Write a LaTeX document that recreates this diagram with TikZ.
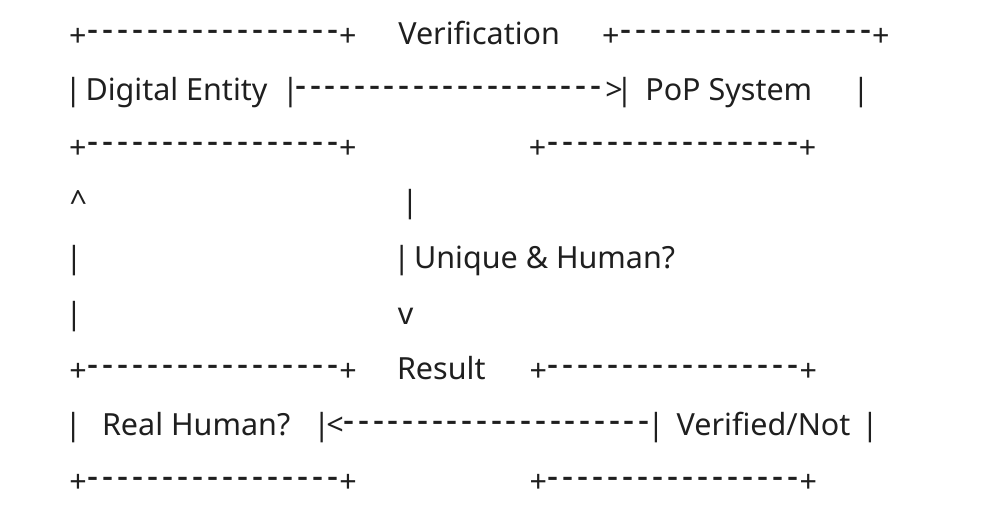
\documentclass[tikz,border=0pt]{standalone}
\usepackage{fontspec}
\setmainfont{Noto Sans}
\definecolor{ink}{HTML}{1F1F1F}
\newcommand\dcell[1]{\makebox[#1pt]{\raisebox{2.0pt}{\scalebox{1.12}[1.3]{-}}}}
\newcommand\pcell{\makebox[15pt]{\raisebox{-1.5pt}{+}}}
\newcommand\bordr{\pcell\foreach\i in{1,...,17}{\dcell{15}}\pcell}
\newcommand\drun[1]{\foreach\i in{1,...,21}{\dcell{#1}}}
\begin{document}
\begin{tikzpicture}[x=1pt,y=-1pt,
  txt/.style={inner sep=0pt,outer sep=0pt,text=ink,font=\fontsize{30.5}{36}\selectfont},
  gl/.style={txt,anchor=base},
  tx/.style={txt,anchor=base west}]
\useasboundingbox[fill=white] (0,0) rectangle (1003,511);
% line 1
\node[tx] (b1l) at (70.3,45) {\bordr};
\node[tx] (ver) at (398.3,45) {Verification};
\node[tx] (b1r) at (603.3,45) {\bordr};
% line 2
\node[gl] (l2a) at (73.3,100.8) {|};
\node[tx] (de) at (85.5,100.8) {Digital Entity};
\node[gl] (l2b) at (290.5,100.8) {|};
\node[tx] (r2) at (293.4,100.8) {\drun{14.76}};
\node[gl] (gt) at (614,100.8) {>};
\node[gl] (l2c) at (624.5,100.8) {|};
\node[tx] (pop) at (645.3,100.8) {PoP System};
\node[gl] (l2d) at (861,100.8) {|};
% line 3
\node[tx] (b3l) at (70.3,156.6) {\bordr};
\node[tx] (b3r) at (530,156.6) {\bordr};
% line 4
\node[gl] (up) at (78.3,212.4) {\^{}};
\node[gl] (l4b) at (410,212.4) {|};
% line 5
\node[gl] (l5a) at (74,268.2) {|};
\node[gl] (l5b) at (401.7,268.2) {|};
\node[tx] (uh) at (414,268.2) {Unique \& Human?};
% line 6
\node[gl] (l6a) at (74,324) {|};
\node[gl] (dn) at (405.5,324) {v};
% line 7
\node[tx] (b7l) at (70.5,379.8) {\bordr};
\node[tx] (res) at (397,379.8) {Result};
\node[tx] (b7r) at (530.8,379.8) {\bordr};
% line 8
\node[gl] (l8a) at (73.3,435.6) {|};
\node[tx] (rh) at (102,435.6) {Real Human?};
\node[gl] (l8b) at (321.7,435.6) {|};
\node[gl] (lt) at (335,435.6) {<};
\node[tx] (r8) at (341.6,435.6) {\drun{14.76}};
\node[gl] (l8c) at (656,435.6) {|};
\node[tx] (vn) at (676.7,435.6) {Verified/Not};
\node[gl] (l8d) at (870,435.6) {|};
% line 9
\node[tx] (b9l) at (70.5,491.4) {\bordr};
\node[tx] (b9r) at (530.8,491.4) {\bordr};
\end{tikzpicture}
\end{document}
